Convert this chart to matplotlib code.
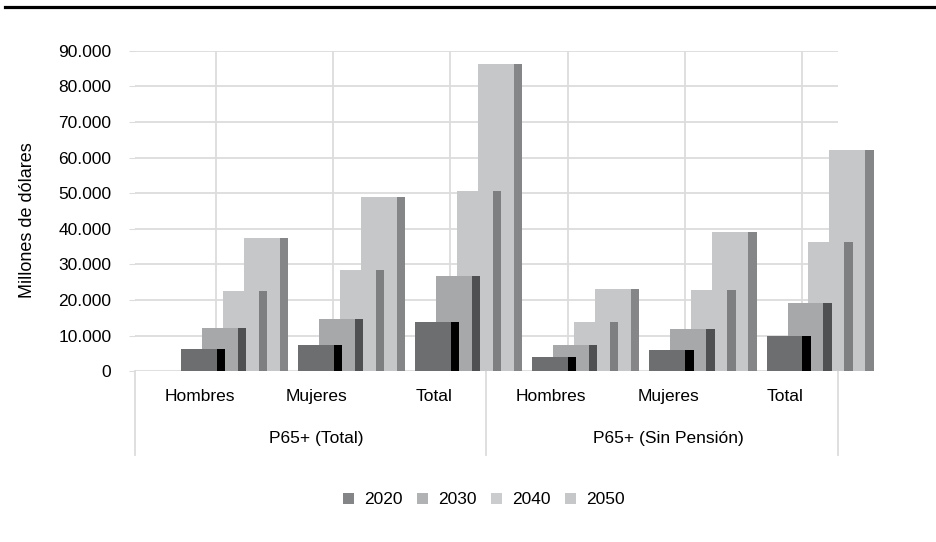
import numpy as np
import matplotlib.pyplot as plt
from matplotlib.patches import Patch
from matplotlib.lines import Line2D

plt.rcParams['font.family'] = ['Liberation Sans', 'DejaVu Sans']

# datos (millones de dólares)
categorias = ['Hombres', 'Mujeres', 'Total', 'Hombres', 'Mujeres', 'Total']
grupos = ['P65+ (Total)', 'P65+ (Sin Pensión)']
anios = ['2020', '2030', '2040', '2050']
v2020 = [6200, 7500, 13800, 3900, 5900, 9900]
v2030 = [12100, 14800, 26800, 7400, 12000, 19300]
v2040 = [22500, 28500, 50700, 13800, 22800, 36400]
v2050 = [37400, 49000, 86300, 23000, 39200, 62200]
series = [v2020, v2030, v2040, v2050]
yticks = np.arange(0, 90001, 10000)

# estilo tipo columna 3D de Excel: cara frontal + lateral oscura
frente = ['#6d6e70', '#a7a8aa', '#c6c7c9', '#c6c7c9']
lateral = ['#000000', '#4f5052', '#7e7f81', '#858688']
leyenda = ['#848586', '#b1b2b4', '#cbcccd', '#c6c7c8']
inicio, paso, ancho, lado = -0.110, 0.179, 0.307, 0.071
grid_c = '#dcdcdc'

fig = plt.figure(figsize=(9.37, 5.42), dpi=100)
ax = fig.add_axes([135 / 937, 1 - 371.3 / 542, 703 / 937, 320.4 / 542])
ax.set_xlim(-0.5, 5.5)
ax.set_ylim(0, 90000)

x = np.arange(len(categorias))

# rejilla
for yv in yticks:
    ax.axhline(yv, color=grid_c, lw=1.3, zorder=0)
for xv in x + 0.192:
    ax.axvline(xv, color=grid_c, lw=1.3, zorder=0)

# barras: la serie del fondo primero
for k in range(3, -1, -1):
    x0 = x + inicio + k * paso
    ax.bar(x0, series[k], width=ancho, align='edge', color=frente[k],
           linewidth=0, zorder=2 + (3 - k), clip_on=False)
    ax.bar(x0 + ancho, series[k], width=lado, align='edge', color=lateral[k],
           linewidth=0, zorder=2 + (3 - k), clip_on=False)

for s in ax.spines.values():
    s.set_visible(False)
ax.set_yticks(yticks)
ax.set_yticklabels(['0' if v == 0 else f'{v:,}'.replace(',', '.') for v in yticks])
ax.tick_params(axis='y', length=4, color=grid_c, pad=13, labelsize=12.5)
ax.set_xticks([])

# ejes de categorías
tr = ax.get_xaxis_transform()
for i, c in enumerate(categorias):
    ax.text(i + 0.05, -0.080, c, transform=tr, ha='center', va='center', fontsize=12.5)
for j, g in enumerate(grupos):
    ax.text(3 * j + 1 + 0.05, -0.211, g, transform=tr, ha='center', va='center',
            fontsize=12.5)
for xv in [-0.5, 2.5, 5.5]:
    ax.plot([xv, xv], [0, -0.261], transform=tr, color=grid_c, lw=1.3, clip_on=False)

fig.text(28 / 937, 1 - 220 / 542, 'Millones de dólares', rotation=90,
         ha='center', va='center', fontsize=13)

handles = [Patch(facecolor=c, edgecolor='none') for c in leyenda]
fig.legend(handles, anios, loc='center', bbox_to_anchor=(484 / 937, 1 - 500 / 542),
           ncol=4, frameon=False, fontsize=12.5, handlelength=0.6, handleheight=0.6,
           handletextpad=0.6, columnspacing=0.85)

# línea superior
fig.add_artist(Line2D([5 / 937, 1], [1 - 7 / 542, 1 - 7 / 542], color='black', lw=2.3))

fig.savefig('out.png', dpi=100)
